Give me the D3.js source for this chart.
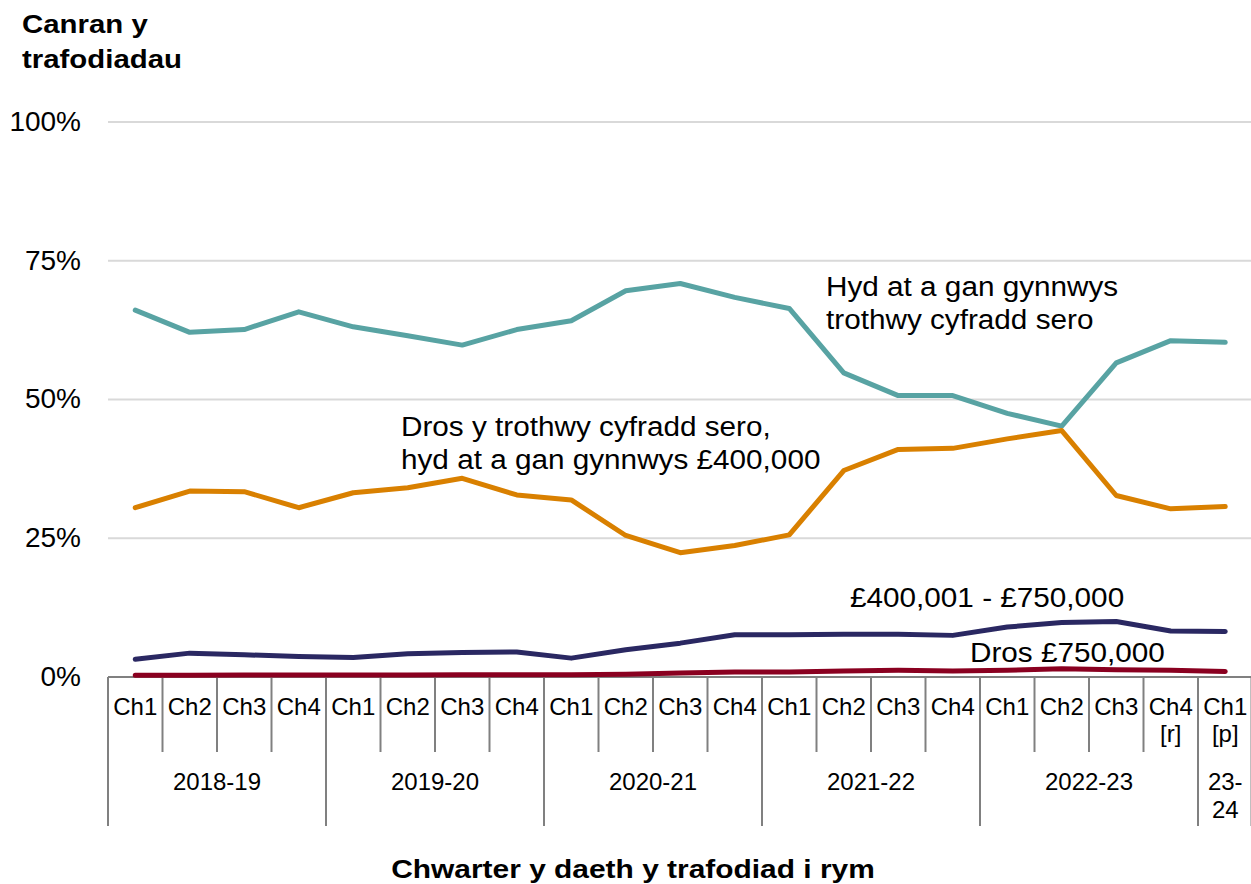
<!DOCTYPE html>
<html lang="cy">
<head>
<meta charset="utf-8">
<script src="https://cdn.jsdelivr.net/npm/d3@7"></script>
<style>
  html, body { margin: 0; padding: 0; background: #fff; }
  svg { display: block; }
</style>
</head>
<body>
<div id="chart"></div>
<script>
// Data — share of transactions by price band, per quarter
const quarters = ['Ch1', 'Ch2', 'Ch3', 'Ch4', 'Ch1', 'Ch2', 'Ch3', 'Ch4',
  'Ch1', 'Ch2', 'Ch3', 'Ch4', 'Ch1', 'Ch2', 'Ch3', 'Ch4',
  'Ch1', 'Ch2', 'Ch3', 'Ch4', 'Ch1'];
const quarterNotes = ['', '', '', '', '', '', '', '', '', '', '', '', '', '', '', '', '', '', '', '[r]', '[p]'];
const years = [
  { label: ['2018-19'], n: 4 },
  { label: ['2019-20'], n: 4 },
  { label: ['2020-21'], n: 4 },
  { label: ['2021-22'], n: 4 },
  { label: ['2022-23'], n: 4 },
  { label: ['23-', '24'], n: 1 }
];
const yTicks = [0, 25, 50, 75, 100];

const zeroRate   = [66.1, 62.1, 62.6, 65.8, 63.1, 61.5, 59.8, 62.6, 64.2, 69.6, 70.9, 68.4, 66.4, 54.8, 50.7, 50.7, 47.5, 45.2, 56.6, 60.6, 60.3];
const to400k     = [30.5, 33.5, 33.4, 30.5, 33.2, 34.1, 35.8, 32.8, 31.9, 25.5, 22.4, 23.7, 25.6, 37.2, 41.0, 41.2, 42.9, 44.4, 32.7, 30.3, 30.7];
const to750k     = [3.2, 4.3, 4.0, 3.7, 3.5, 4.2, 4.4, 4.5, 3.4, 4.9, 6.1, 7.6, 7.6, 7.7, 7.7, 7.5, 9.0, 9.8, 10.0, 8.3, 8.2];
const over750k   = [0.3, 0.3, 0.35, 0.35, 0.35, 0.35, 0.4, 0.4, 0.4, 0.5, 0.7, 0.9, 0.9, 1.1, 1.2, 1.1, 1.2, 1.5, 1.3, 1.2, 1.0];

const TEAL   = '#58a3a3';
const ORANGE = '#d98000';
const NAVY   = '#2a2862';
const RED    = '#8a0020';
const GRID   = '#d9d9d9';
const AXIS   = '#808080';
const FONT   = "Arial, 'Liberation Sans', sans-serif";

const series = [
  { values: zeroRate, color: TEAL,
    label: ['Hyd at a gan gynnwys', 'trothwy cyfradd sero'], lx: 826, ly: 296 },
  { values: to400k, color: ORANGE,
    label: ['Dros y trothwy cyfradd sero,', 'hyd at a gan gynnwys £400,000'], lx: 401, ly: 436 },
  { values: to750k, color: NAVY, label: ['£400,001 - £750,000'], lx: 850, ly: 607 },
  { values: over750k, color: RED, label: ['Dros £750,000'], lx: 970, ly: 662 }
];

const W = 1251, H = 884;
const plot = { left: 108, right: 1252.5, top: 122, bottom: 677 };

/** Widen text slightly, the source chart is drawn a little stretched */
function stretch(sel, k) {
  sel.each(function () {
    const len = this.getComputedTextLength();
    if (len > 0) {
      d3.select(this)
        .attr('textLength', len * k)
        .attr('lengthAdjust', 'spacingAndGlyphs');
    }
  });
}

const svg = d3.select('#chart').append('svg')
  .attr('width', W).attr('height', H)
  .style('font-family', FONT);

const x = d3.scaleBand()
  .domain(d3.range(quarters.length))
  .range([plot.left, plot.right])
  .padding(0);

const y = d3.scaleLinear()
  .domain([0, 100])
  .range([plot.bottom, plot.top]);

const cx = i => x(i) + x.bandwidth() / 2;

// Gridlines + y labels
const yAxis = svg.append('g')
  .call(d3.axisLeft(y).tickValues(yTicks).tickSize(0).tickPadding(0).tickFormat(d => `${d}%`))
  .attr('transform', 'translate(81,0)');
yAxis.select('.domain').remove();
yAxis.selectAll('text')
  .attr('x', 0)
  .attr('dy', '0.3em')
  .style('font-family', FONT)
  .style('font-size', '28px')
  .style('fill', '#000');

svg.append('g')
  .selectAll('line')
  .data(yTicks.filter(d => d > 0))
  .join('line')
  .attr('x1', plot.left).attr('x2', W)
  .attr('y1', d => y(d)).attr('y2', d => y(d))
  .attr('stroke', GRID)
  .attr('stroke-width', 2);

// X axis — two-level category axis
const xg = svg.append('g');
xg.append('line')
  .attr('x1', plot.left).attr('x2', W)
  .attr('y1', plot.bottom).attr('y2', plot.bottom)
  .attr('stroke', AXIS).attr('stroke-width', 2);

let start = 0;
const yearStarts = years.map(yr => { const s = start; start += yr.n; return s; });
const isYearEdge = i => yearStarts.includes(i) || i === quarters.length;

xg.selectAll('.sep')
  .data(d3.range(quarters.length + 1))
  .join('line')
  .attr('class', 'sep')
  .attr('x1', i => i < quarters.length ? x(i) : plot.right - 1)
  .attr('x2', i => i < quarters.length ? x(i) : plot.right - 1)
  .attr('y1', plot.bottom)
  .attr('y2', i => isYearEdge(i) ? 826 : 752)
  .attr('stroke', AXIS)
  .attr('stroke-width', 2);

const qText = xg.selectAll('.q')
  .data(quarters)
  .join('text')
  .attr('class', 'q')
  .attr('text-anchor', 'middle')
  .style('font-size', '24px')
  .attr('x', (d, i) => cx(i))
  .attr('y', 715);
qText.append('tspan').text(d => d);
qText.append('tspan')
  .attr('x', (d, i) => cx(i))
  .attr('dy', 27)
  .text((d, i) => quarterNotes[i]);

xg.selectAll('.yr')
  .data(years)
  .join('text')
  .attr('class', 'yr')
  .attr('text-anchor', 'middle')
  .style('font-size', '24px')
  .each(function (d, k) {
    const s = yearStarts[k];
    const mid = (x(s) + x(s + d.n - 1) + x.bandwidth()) / 2;
    d3.select(this).selectAll('tspan')
      .data(d.label)
      .join('tspan')
      .attr('x', mid)
      .attr('y', (t, j) => 790 + j * 28)
      .text(t => t);
  });

// Lines
const line = d3.line()
  .x((d, i) => cx(i))
  .y(d => y(d));

svg.append('g')
  .selectAll('path')
  .data(series)
  .join('path')
  .attr('fill', 'none')
  .attr('stroke', d => d.color)
  .attr('stroke-width', 5)
  .attr('stroke-linejoin', 'round')
  .attr('stroke-linecap', 'round')
  .attr('d', d => line(d.values));

// Direct labels
const labels = svg.append('g')
  .selectAll('text')
  .data(series)
  .join('text')
  .style('font-size', '27px')
  .each(function (d) {
    d3.select(this).selectAll('tspan')
      .data(d.label)
      .join('tspan')
      .attr('x', d.lx)
      .attr('y', (t, j) => d.ly + j * 33)
      .text(t => t);
  });
stretch(labels.selectAll('tspan'), 1.1);

// Axis titles
const yTitle = svg.append('text')
  .style('font-size', '26px').style('font-weight', 'bold')
  .selectAll('tspan')
  .data(['Canran y', 'trafodiadau'])
  .join('tspan')
  .attr('x', 22)
  .attr('y', (t, j) => 33 + j * 35)
  .text(t => t);
stretch(yTitle, 1.13);

const xTitle = svg.append('text')
  .attr('x', 633).attr('y', 878)
  .attr('text-anchor', 'middle')
  .style('font-size', '26px').style('font-weight', 'bold')
  .text('Chwarter y daeth y trafodiad i rym');
stretch(xTitle, 1.15);
</script>
</body>
</html>
